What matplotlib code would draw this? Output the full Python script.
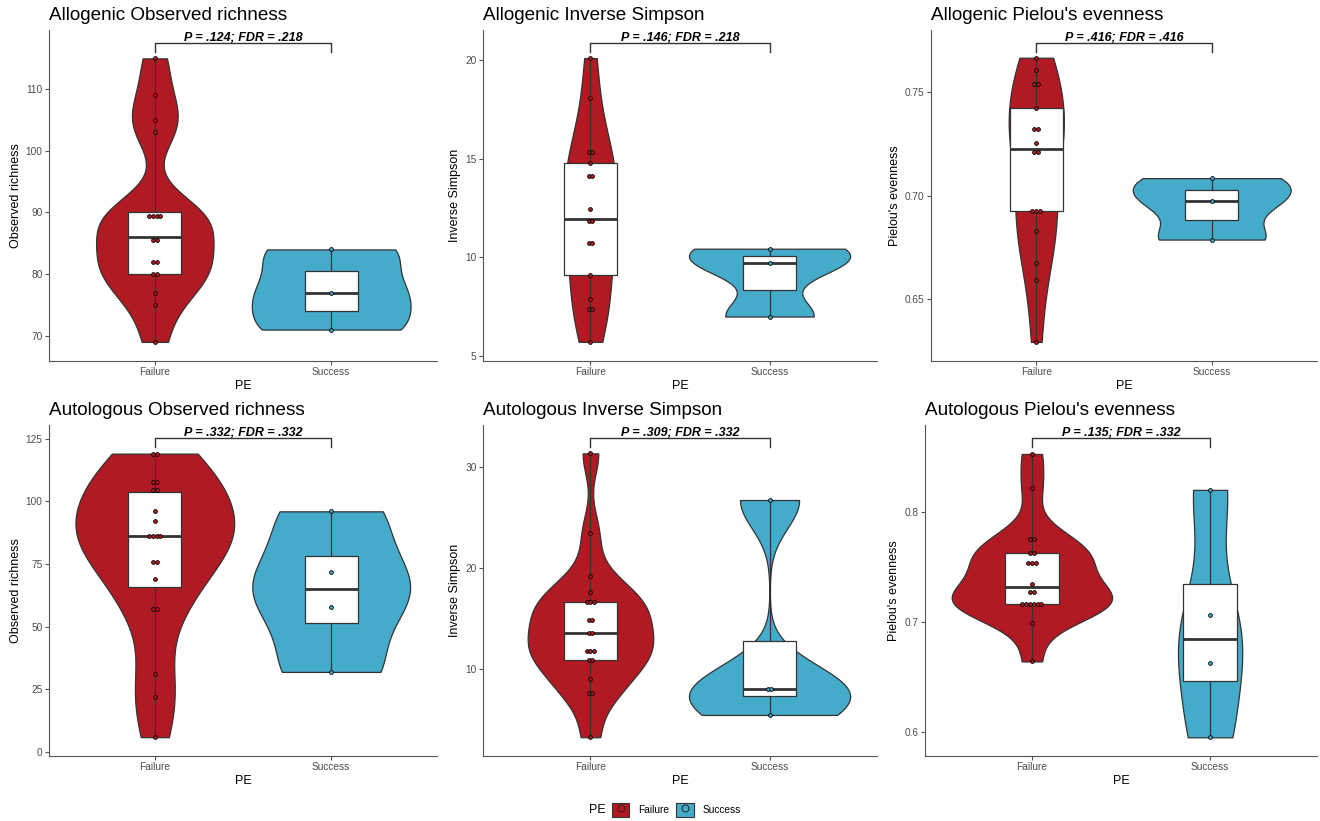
import numpy as np
import matplotlib.pyplot as plt
import matplotlib.transforms as mtransforms
from matplotlib.patches import Patch, Rectangle
from matplotlib.lines import Line2D
from matplotlib.legend_handler import HandlerTuple

plt.rcParams['font.family'] = ['Liberation Sans', 'DejaVu Sans']

groups = ['Failure', 'Success']
fill_colors = {'Failure': '#B11A23', 'Success': '#45ABCA'}
line_col = '#333333'

# allogenic transplants
allo_richness = {
    'Failure': [69, 75, 77, 80, 80, 82, 82, 85, 86, 89, 89, 90, 90, 103, 105, 109, 115],
    'Success': [71, 77, 84],
}
allo_invsimpson = {
    'Failure': [5.73, 7.35, 7.4, 7.89, 9.09, 10.72, 10.76, 11.7, 11.94, 12.44,
                14.1, 14.14, 14.76, 15.3, 15.34, 18.04, 20.08],
    'Success': [7.01, 9.71, 10.44],
}
allo_pielou = {
    'Failure': [0.6292, 0.6592, 0.6674, 0.6829, 0.6923, 0.6923, 0.6923, 0.7195, 0.7225,
                0.7256, 0.7321, 0.7321, 0.7421, 0.7537, 0.7537, 0.7605, 0.7666],
    'Success': [0.6787, 0.6974, 0.7084],
}

# autologous transplants
auto_richness = {
    'Failure': [6, 22, 31, 57, 57, 69, 76, 76, 86, 86, 86, 86, 92, 96, 102.7, 106.3,
                107, 108, 119, 119],
    'Success': [32, 58, 72, 96],
}
auto_invsimpson = {
    'Failure': [3.3, 7.7, 7.7, 9.0, 10.85, 10.9, 11.8, 11.8, 11.85, 13.6, 13.6, 14.9,
                14.9, 16.6, 16.6, 16.6, 17.6, 19.2, 23.4, 31.3],
    'Success': [5.5, 8.0, 8.2, 26.7],
}
auto_pielou = {
    'Failure': [0.664, 0.699, 0.716, 0.716, 0.716, 0.716, 0.716, 0.716, 0.7255, 0.729,
                0.7345, 0.7534, 0.7534, 0.7534, 0.763, 0.763, 0.7757, 0.7757, 0.8215, 0.8527],
    'Success': [0.595, 0.663, 0.706, 0.820],
}

p_labels = ['P = .124; FDR = .218', 'P = .146; FDR = .218', 'P = .416; FDR = .416',
            'P = .332; FDR = .332', 'P = .309; FDR = .332', 'P = .135; FDR = .332']

W, H, DPI = 1320, 821, 100
fig = plt.figure(figsize=(W / DPI, H / DPI), dpi=DPI)


def bw_nrd0(x):
    x = np.asarray(x, float)
    hi = np.std(x, ddof=1)
    q75, q25 = np.percentile(x, [75, 25])
    lo = min(hi, (q75 - q25) / 1.34)
    if lo == 0:
        lo = hi or abs(x[0]) or 1.0
    return 0.9 * lo * len(x) ** -0.2


def violin_density(x, n=512):
    x = np.asarray(x, float)
    bw = bw_nrd0(x)
    ys = np.linspace(x.min(), x.max(), n)
    d = np.exp(-0.5 * ((ys[:, None] - x[None, :]) / bw) ** 2).sum(axis=1)
    return ys, d / (len(x) * bw * np.sqrt(2 * np.pi))


def dot_bins(x, binwidth):
    bins = []
    end = -np.inf
    for v in np.sort(np.asarray(x, float)):
        if v >= end:
            bins.append([v])
            end = v + binwidth
        else:
            bins[-1].append(v)
    return [((min(b) + max(b)) / 2, len(b)) for b in bins]


def draw_panel(rect, title, ylabel, data, ylim, yticks, yticklabels, label):
    l, t, r, b = rect
    ax = fig.add_axes([l / W, 1 - b / H, (r - l) / W, (b - t) / H])
    ax.set_xlim(0.4, 2.6)
    ax.set_ylim(*ylim)
    w_px, h_px = r - l, b - t

    values = [np.asarray(data[g], float) for g in groups]
    dens = [violin_density(v) for v in values]
    peak = max(d.max() for _, d in dens)

    allv = np.concatenate(values)
    binwidth = (allv.max() - allv.min()) / 30
    diam_px = 0.4 * binwidth / (ylim[1] - ylim[0]) * h_px
    step_x = diam_px / w_px * 2.2

    for i, g in enumerate(groups):
        pos = i + 1
        v = values[i]
        ys, d = dens[i]
        half = 0.45 * d / peak
        ax.fill_betweenx(ys, pos - half, pos + half, facecolor=fill_colors[g],
                         edgecolor=line_col, lw=0.9, zorder=1)

        q1, med, q3 = np.percentile(v, [25, 50, 75])
        ax.plot([pos, pos], [v.min(), q1], color=line_col, lw=0.9, zorder=2)
        ax.plot([pos, pos], [q3, v.max()], color=line_col, lw=0.9, zorder=2)
        ax.add_patch(Rectangle((pos - 0.15, q1), 0.3, q3 - q1, facecolor='white',
                               edgecolor=line_col, lw=0.9, zorder=3))
        ax.plot([pos - 0.15, pos + 0.15], [med, med], color=line_col, lw=2.0,
                zorder=4, solid_capstyle='butt')

        xs, yd = [], []
        for centre, k in dot_bins(v, binwidth):
            for j in range(k):
                xs.append(pos + (j - (k - 1) / 2) * step_x)
                yd.append(centre)
        ax.plot(xs, yd, ls='', marker='o', ms=diam_px * 72 / DPI, mfc=fill_colors[g],
                mec='black', mew=0.6, zorder=5)

    # significance bracket
    trans = mtransforms.blended_transform_factory(ax.transData, ax.transAxes)
    ax.plot([1, 1, 2, 2], [0.933, 0.96, 0.96, 0.933], transform=trans, color=line_col,
            lw=1.0, clip_on=False, zorder=6)
    ax.text(1.5, 0.968, label, transform=trans, ha='center', va='baseline',
            fontsize=9, fontweight='bold', fontstyle='italic')

    ax.set_xticks([1, 2])
    ax.set_xticklabels(groups)
    ax.set_yticks(yticks)
    ax.set_yticklabels(yticklabels)
    for side in ['top', 'right']:
        ax.spines[side].set_visible(False)
    for side in ['left', 'bottom']:
        ax.spines[side].set_color('#555555')
        ax.spines[side].set_linewidth(0.8)
    ax.tick_params(length=2.6, width=0.8, color='#555555', labelsize=7.3,
                   labelcolor='#4D4D4D', pad=2)
    ax.set_title(title, loc='left', fontsize=13.6, pad=7)
    ax.set_ylabel(ylabel, fontsize=9, labelpad=3)
    ax.set_xlabel('PE', fontsize=9, labelpad=2)
    return ax


draw_panel((49, 30, 437, 361), 'Allogenic Observed richness', 'Observed richness',
           allo_richness, (65.9, 119.6), [70, 80, 90, 100, 110],
           ['70', '80', '90', '100', '110'], p_labels[0])
draw_panel((483, 30, 877, 361), 'Allogenic Inverse Simpson', 'Inverse Simpson',
           allo_invsimpson, (4.76, 21.5), [5, 10, 15, 20],
           ['5', '10', '15', '20'], p_labels[1])
draw_panel((931, 30, 1317, 361), "Allogenic Pielou's evenness", "Pielou's evenness",
           allo_pielou, (0.620, 0.780), [0.65, 0.70, 0.75],
           ['0.65', '0.70', '0.75'], p_labels[2])
draw_panel((49, 425, 437, 756), 'Autologous Observed richness', 'Observed richness',
           auto_richness, (-1.5, 130.4), [0, 25, 50, 75, 100, 125],
           ['0', '25', '50', '75', '100', '125'], p_labels[3])
draw_panel((483, 425, 877, 756), 'Autologous Inverse Simpson', 'Inverse Simpson',
           auto_invsimpson, (1.45, 34.1), [10, 20, 30],
           ['10', '20', '30'], p_labels[4])
draw_panel((925, 425, 1317, 756), "Autologous Pielou's evenness", "Pielou's evenness",
           auto_pielou, (0.578, 0.879), [0.6, 0.7, 0.8],
           ['0.6', '0.7', '0.8'], p_labels[5])

# shared legend at the bottom
handles = [(Patch(facecolor=fill_colors[g], edgecolor=line_col, lw=0.8),
            Line2D([], [], ls='', marker='o', ms=5, mfc=fill_colors[g], mec='#222222', mew=0.7))
           for g in groups]
fig.legend(handles, groups, handler_map={tuple: HandlerTuple(ndivide=1, pad=0)},
           loc='center left', bbox_to_anchor=(612 / W, 1 - 810 / H), ncol=2, frameon=False,
           fontsize=7.3, handlelength=1.7, handleheight=1.7, handletextpad=0.9,
           columnspacing=0.7, borderpad=0, borderaxespad=0)
fig.text(589 / W, 1 - 810 / H, 'PE', fontsize=9, va='center', ha='left')

fig.savefig('out.png', dpi=DPI)
